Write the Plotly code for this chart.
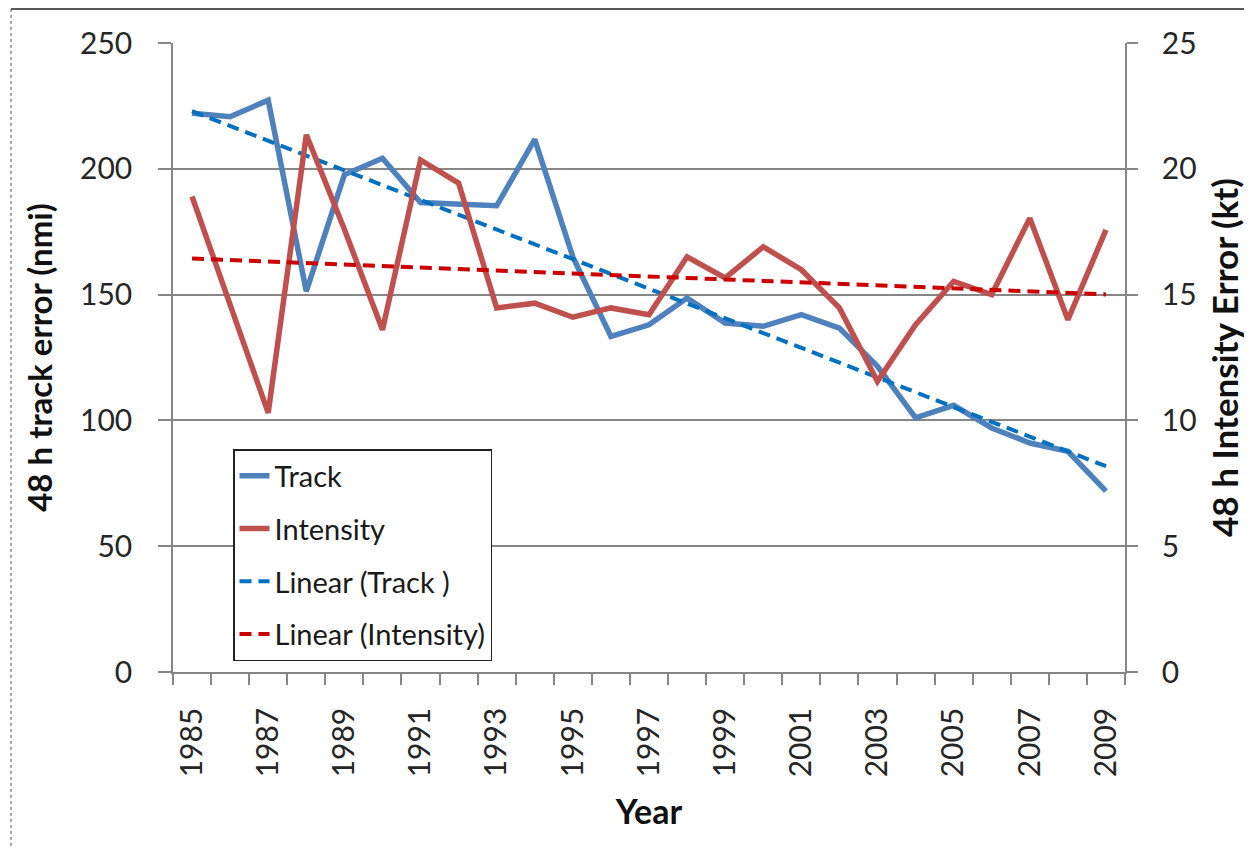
import numpy as np
import plotly.graph_objects as go

years = list(range(1985, 2010))
track = [222.1, 220.7, 227.3, 151.3, 197.6, 204.2, 186.6, 186.0, 185.3, 211.7,
         165.0, 133.4, 138.0, 148.6, 138.7, 137.4, 142.0, 136.7, 121.5, 101.0,
         106.0, 97.0, 91.0, 87.7, 71.9]
intensity = [18.9, 14.6, 10.3, 21.35, 17.6, 13.6, 20.35, 19.43, 14.47, 14.66,
             14.1, 14.47, 14.2, 16.5, 15.66, 16.9, 15.99, 14.47, 11.55, 13.8,
             15.52, 15.0, 18.04, 14.0, 17.57]
left_ticks = [0, 50, 100, 150, 200, 250]
right_ticks = [0, 5, 10, 15, 20, 25]
label_years = list(range(1985, 2010, 2))

x = np.array(years, dtype=float)
ct = np.polyfit(x, track, 1)
ci = np.polyfit(x, intensity, 1)
track_trend = np.polyval(ct, x)
int_trend = np.polyval(ci, x)

FONT = "Lato"
fig = go.Figure()
fig.add_trace(go.Scatter(x=years, y=track, mode="lines", name="Track",
                         legendgroup="a",
                         line=dict(color="#4F81BD", width=5.5)))
fig.add_trace(go.Scatter(x=years, y=intensity, mode="lines", name="Intensity",
                         legendgroup="b", yaxis="y2",
                         line=dict(color="#C0504D", width=5.5)))
fig.add_trace(go.Scatter(x=years, y=track_trend, mode="lines", name="Linear (Track )",
                         legendgroup="c",
                         line=dict(color="#0070C0", width=4, dash="12px,7px")))
fig.add_trace(go.Scatter(x=years, y=int_trend, mode="lines", name="Linear (Intensity)",
                         legendgroup="d", yaxis="y2",
                         line=dict(color="#CC0000", width=4, dash="12px,7px")))

# page has an 8px body margin; figure coordinates are page coordinates minus 8
OFF = 8
W, H = 1252 - OFF, 849 - OFF
L, R, T, B = 173 - OFF, 1125 - OFF, 43 - OFF, 672 - OFF


def px(v):
    return (v - OFF - L) / (R - L)


def py(v):
    return (B - (v - OFF)) / (B - T)


fig.update_layout(
    width=W, height=H,
    margin=dict(l=L, r=W - R, t=T, b=H - B, autoexpand=False),
    paper_bgcolor="white", plot_bgcolor="white",
    font=dict(family=FONT, size=30, color="#262626"),
    showlegend=True,
    legend=dict(x=px(233), y=py(449), xanchor="left", yanchor="top",
                bgcolor="white", bordercolor="#222222", borderwidth=1.5,
                font=dict(size=29, color="#1a1a1a"), tracegroupgap=12,
                traceorder="grouped"),
    xaxis=dict(range=[1984.5, 2009.5], tickmode="array", tickvals=label_years,
               ticktext=[str(y) for y in label_years], tickangle=-90,
               ticks="outside", ticklen=0, tickcolor="#868686",
               ticklabelstandoff=22, automargin=False,
               showgrid=False, zeroline=False,
               showline=True, linecolor="#868686", linewidth=1.5,
               minor=dict(ticks="outside", ticklen=11, tickwidth=1.5, tickcolor="#868686",
                          tickmode="linear", tick0=1984.5, dtick=1, showgrid=False),
               title=dict(text="<b>Year</b>", font=dict(size=34, color="#111111"),
                          standoff=24)),
    yaxis=dict(range=[0, 250], tickmode="array", tickvals=left_ticks,
               ticks="outside", ticklen=13, tickwidth=1.5, tickcolor="#868686",
               ticklabelstandoff=20, automargin=False,
               showgrid=True, gridcolor="#868686", gridwidth=1.5,
               zeroline=False, showline=True, linecolor="#868686", linewidth=1.5,
               title=dict(text="<b>48 h track error (nmi)</b>",
                          font=dict(size=33, color="#111111"), standoff=17)),
    yaxis2=dict(range=[0, 25], tickmode="array", tickvals=right_ticks,
                overlaying="y", side="right",
                ticks="outside", ticklen=11, tickwidth=1.5, tickcolor="#868686",
                ticklabelstandoff=18, automargin=False,
                showgrid=False, zeroline=False, showline=True,
                linecolor="#868686", linewidth=1.5,
                title=dict(text="<b>48 h Intensity Error (kt)</b>",
                           font=dict(size=35, color="#111111"), standoff=18)),
    shapes=[
        dict(type="line", xref="paper", yref="paper",
             x0=px(11), x1=px(1252), y0=py(9), y1=py(9),
             line=dict(color="#222222", width=1.5)),
        dict(type="line", xref="paper", yref="paper",
             x0=px(11), x1=px(11), y0=py(9), y1=py(849),
             line=dict(color="#555555", width=1, dash="dot")),
    ],
)

fig.write_html("out.html")
